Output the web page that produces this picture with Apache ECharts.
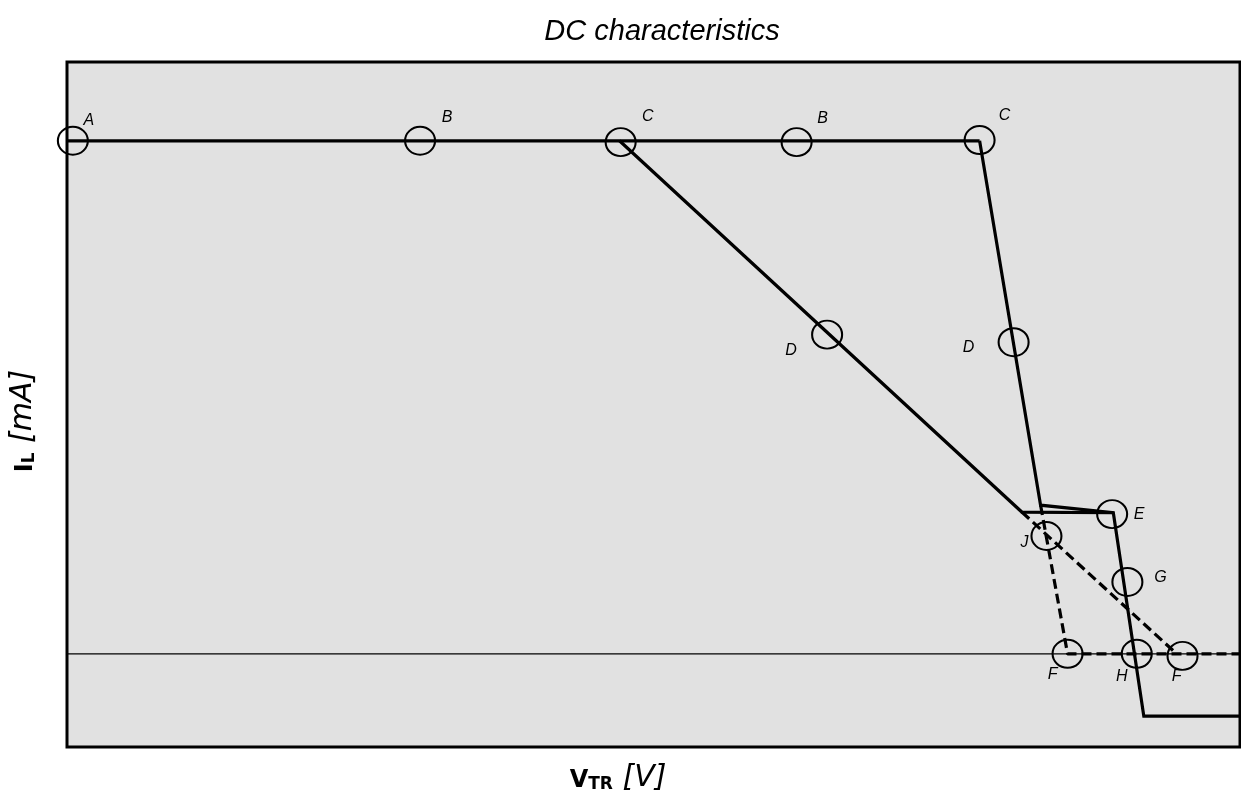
<!DOCTYPE html>
<html><head><meta charset="utf-8">
<script src="https://cdn.jsdelivr.net/npm/echarts@6/dist/echarts.min.js"></script>
<style>html,body{margin:0;padding:0;background:#fff}#c{width:1241px;height:799px}</style>
</head><body><div id="c"></div>
<script>
// Curves (x in V units 0-100, y in mA units 0-100, arbitrary scale; no ticks shown)
const topLine  = [[0, 88.5], [77.8, 88.5]];
const branchA  = [[47.1, 88.5], [81.4, 34.3], [89.2, 34.2]];
const branchB  = [[77.8, 88.5], [83.0, 35.3], [89.2, 34.2], [91.8, 4.5], [100, 4.5]];
const dashA    = [[81.4, 34.3], [94.6, 13.6]];
const dashB    = [[83.0, 35.3], [85.3, 13.6], [100, 13.6]];
const baseLine = [[0, 13.6], [100, 13.6]];
// Marked operating points
const pointNames = ['A', 'B', 'C', 'B', 'C', 'D', 'D', 'E', 'J', 'G', 'F', 'H', 'F'];
const pointX = [0.5, 30.1, 47.2, 62.2, 77.8, 64.8, 80.7, 89.1, 83.5, 90.4, 85.3, 91.2, 95.1];
const pointY = [88.5, 88.5, 88.3, 88.3, 88.6, 60.2, 59.1, 34.0, 30.8, 24.1, 13.6, 13.6, 13.3];

// label placement (style, px offsets from the point)
const labelOffsets = [[16,-20],[27,-23],[27,-26],[26,-24],[25,-25],[-36,16],[-45,5],[27,0],[-22,7],[33,-4],[-15,21],[-15,23],[-6,21]];

const chart = echarts.init(document.getElementById('c'));
const solid = {width: 3.2, color: '#000', cap: 'butt', join: 'miter'};
const dashed = {width: 3.2, color: '#000', type: [10, 5], cap: 'butt'};
function line(data, style, z) {
  return {type: 'line', data: data, showSymbol: false, symbol: 'none', lineStyle: style, z: z || 2, silent: true, animation: false};
}
const points = pointNames.map((n, i) => ({
  name: n, value: [pointX[i], pointY[i]],
  label: {offset: labelOffsets[i]}
}));
// baseline-aligned rich tokens: lineHeight/2 - 0.35*fontSize kept constant
function tok(fs, extra) {
  return Object.assign({fontFamily: 'DejaVu Sans', fontSize: fs, lineHeight: Math.round(2 * (5 + 0.35 * fs)), verticalAlign: 'bottom', color: '#000'}, extra);
}
const richAxis = {
  b: tok(24, {fontWeight: 'bold'}),
  s: tok(17, {fontWeight: 'bold'}),
  i: tok(30, {fontStyle: 'italic'})
};
chart.setOption({
  animation: false,
  backgroundColor: '#fff',
  title: {
    text: 'DC characteristics', left: 657, textAlign: 'center', top: 12,
    textStyle: {fontFamily: 'Liberation Sans', fontStyle: 'italic', fontWeight: 'normal', fontSize: 29, color: '#000'}
  },
  grid: {left: 67, right: 1, top: 62, bottom: 52, show: true, containLabel: false, outerBoundsMode: 'none',
         backgroundColor: '#e1e1e1', borderColor: '#000', borderWidth: 3},
  xAxis: {
    type: 'value', min: 0, max: 100,
    axisLine: {show: false}, axisTick: {show: false}, axisLabel: {show: false}, splitLine: {show: false},
    name: '{b|V}{s|TR}{i| [V]}', nameLocation: 'middle', nameGap: 15,
    nameTextStyle: {padding: [0, 71, 0, 0], rich: richAxis}
  },
  yAxis: {
    type: 'value', min: 0, max: 100,
    axisLine: {show: false}, axisTick: {show: false}, axisLabel: {show: false}, splitLine: {show: false},
    name: '{b|I}{s|L}{i| [mA]}', nameLocation: 'middle', nameGap: 29, nameRotate: 90,
    nameTextStyle: {padding: [0, 33, 0, 0], rich: richAxis}
  },
  series: [
    line(baseLine, {width: 1.2, color: '#000'}, 1),
    line(topLine, solid),
    line(branchA, solid),
    line(branchB, solid),
    line(dashA, dashed),
    line(dashB, dashed),
    {
      type: 'scatter', data: points, symbol: 'circle', symbolSize: [30, 28], z: 5, silent: true,
      itemStyle: {color: 'rgba(0,0,0,0)', borderColor: '#000', borderWidth: 2, opacity: 1},
      label: {show: true, position: 'inside', formatter: '{b}', fontFamily: 'Liberation Sans', fontStyle: 'italic', fontSize: 16, color: '#000'}
    }
  ]
});
</script></body></html>
